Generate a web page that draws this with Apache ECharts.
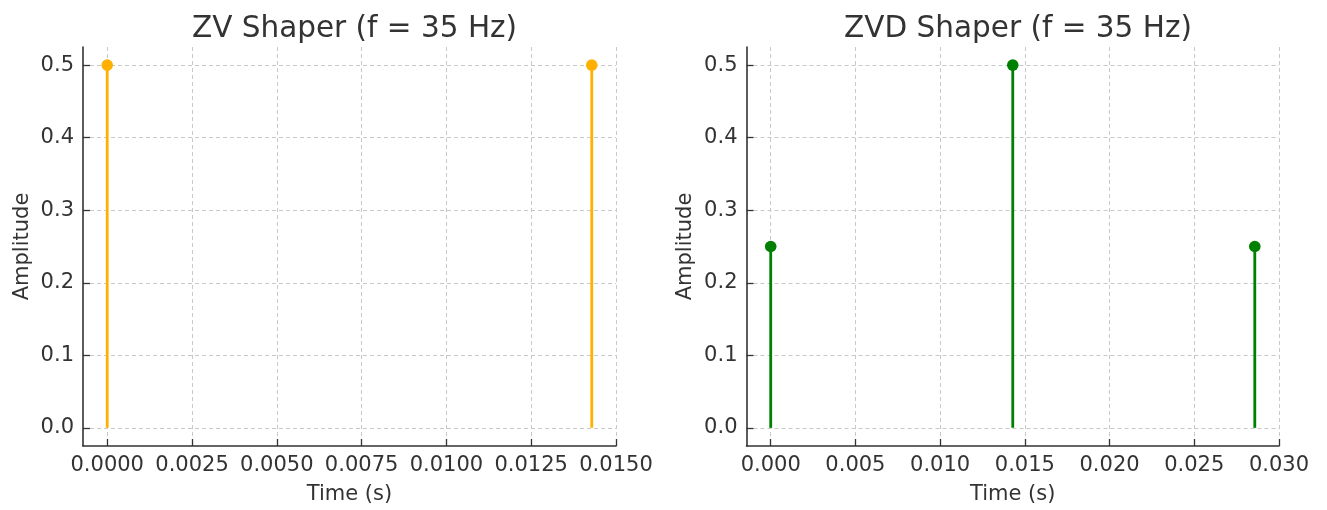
<!DOCTYPE html>
<html>
<head>
<meta charset="utf-8">
<script src="https://cdn.jsdelivr.net/npm/echarts@6/dist/echarts.min.js"></script>
<style>
html,body{margin:0;padding:0;background:#fff;}
#chart{width:1327px;height:510px;}
</style>
</head>
<body>
<div id="chart"></div>
<script>
// ---- data ----
const titles = ['ZV Shaper (f = 35 Hz)', 'ZVD Shaper (f = 35 Hz)'];
const zvTimes = [0, 0.0142857];
const zvAmps = [0.5, 0.5];
const zvdTimes = [0, 0.0142857, 0.0285714];
const zvdAmps = [0.25, 0.5, 0.25];
const zvXTicks = [0, 0.0025, 0.005, 0.0075, 0.01, 0.0125, 0.015];
const zvdXTicks = [0, 0.005, 0.01, 0.015, 0.02, 0.025, 0.03];
const yTicks = [0, 0.1, 0.2, 0.3, 0.4, 0.5];
const zvXRange = [-0.000714, 0.015];
const zvdXRange = [-0.001429, 0.03];
const yRange = [-0.025, 0.525];

const FONT = 'DejaVu Sans';
const TXT = '#333';
const AXC = '#333';
const GRIDC = '#c9c9c9';

function pairs(ts, as) { return ts.map((t, i) => [t, as[i]]); }

function xAxis(gi, range, ticks, dec) {
  return {
    type: 'value', gridIndex: gi, min: range[0], max: range[1],
    name: 'Time (s)', nameLocation: 'middle', nameGap: 38,
    nameTextStyle: {fontFamily: FONT, fontSize: 21, color: TXT},
    axisLine: {show: true, onZero: false, lineStyle: {color: AXC, width: 1.6}},
    axisTick: {show: true, inside: true, length: 7, customValues: ticks, lineStyle: {color: AXC, width: 1.3}},
    axisLabel: {customValues: ticks, margin: 9, fontFamily: FONT, fontSize: 21, color: TXT,
      formatter: v => Number(v).toFixed(dec)},
    splitLine: {show: true, lineStyle: {color: GRIDC, type: [4, 3], width: 1}}
  };
}
function yAxis(gi) {
  return {
    type: 'value', gridIndex: gi, min: yRange[0], max: yRange[1],
    name: 'Amplitude', nameLocation: 'middle', nameGap: 50,
    nameTextStyle: {fontFamily: FONT, fontSize: 21, color: TXT},
    axisLine: {show: true, onZero: false, lineStyle: {color: AXC, width: 1.6}},
    axisTick: {show: true, inside: true, length: 7, customValues: yTicks, lineStyle: {color: AXC, width: 1.3}},
    axisLabel: {customValues: yTicks, margin: 9, fontFamily: FONT, fontSize: 21, color: TXT,
      formatter: v => Number(v).toFixed(1)},
    splitLine: {show: true, lineStyle: {color: GRIDC, type: [4, 3], width: 1}}
  };
}
function stem(gi, data, color) {
  return {
    type: 'custom', xAxisIndex: gi, yAxisIndex: gi, data: data, clip: false,
    renderItem: function (params, api) {
      const t = api.value(0), a = api.value(1);
      const p0 = api.coord([t, 0]);
      const p1 = api.coord([t, a]);
      return {type: 'group', children: [
        {type: 'line', shape: {x1: p0[0], y1: p0[1], x2: p1[0], y2: p1[1]}, style: {stroke: color, lineWidth: 2.8}},
        {type: 'circle', shape: {cx: p1[0], cy: p1[1], r: 5.8}, style: {fill: color}}
      ]};
    }
  };
}

const chart = echarts.init(document.getElementById('chart'));
chart.setOption({
  animation: false,
  backgroundColor: '#fff',
  title: [
    {text: titles[0], left: 349.5, top: 9, textAlign: 'center',
      textStyle: {fontFamily: FONT, fontSize: 29.5, fontWeight: 'normal', color: TXT}},
    {text: titles[1], left: 1013, top: 9, textAlign: 'center',
      textStyle: {fontFamily: FONT, fontSize: 29.5, fontWeight: 'normal', color: TXT}}
  ],
  grid: [
    {left: 83, right: 711, top: 47, bottom: 59, containLabel: false},
    {left: 746.5, right: 48, top: 47, bottom: 59, containLabel: false}
  ],
  xAxis: [xAxis(0, zvXRange, zvXTicks, 4), xAxis(1, zvdXRange, zvdXTicks, 3)],
  yAxis: [yAxis(0), yAxis(1)],
  series: [
    stem(0, pairs(zvTimes, zvAmps), '#FFB000'),
    stem(1, pairs(zvdTimes, zvdAmps), '#008000')
  ]
});
</script>
</body>
</html>
